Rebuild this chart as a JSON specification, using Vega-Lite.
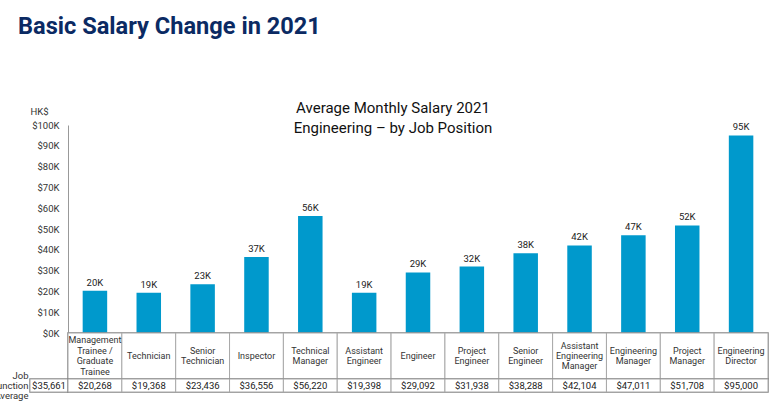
{
  "$schema": "https://vega.github.io/schema/vega-lite/v6.json",
  "autosize": "none",
  "padding": {"left": 30, "top": 125, "right": 750, "bottom": 277},
  "background": "white",
  "title": {
    "text": "Basic Salary Change in 2021",
    "anchor": "start",
    "frame": "group",
    "dx": -12,
    "offset": 62,
    "font": "Roboto",
    "fontSize": 23.6,
    "fontWeight": "bold",
    "color": "#0b2a63"
  },
  "config": {
    "view": {"stroke": null},
    "font": "Roboto",
    "text": {"font": "Roboto"}
  },
  "datasets": {
    "jobs": [
      {"job": "Management\nTrainee /\nGraduate\nTrainee", "salary": 20268, "lbl": "20K"},
      {"job": "Technician", "salary": 19368, "lbl": "19K"},
      {"job": "Senior\nTechnician", "salary": 23436, "lbl": "23K"},
      {"job": "Inspector", "salary": 36556, "lbl": "37K"},
      {"job": "Technical\nManager", "salary": 56220, "lbl": "56K"},
      {"job": "Assistant\nEngineer", "salary": 19398, "lbl": "19K"},
      {"job": "Engineer", "salary": 29092, "lbl": "29K"},
      {"job": "Project\nEngineer", "salary": 31938, "lbl": "32K"},
      {"job": "Senior\nEngineer", "salary": 38288, "lbl": "38K"},
      {"job": "Assistant\nEngineering\nManager", "salary": 42104, "lbl": "42K"},
      {"job": "Engineering\nManager", "salary": 47011, "lbl": "47K"},
      {"job": "Project\nManager", "salary": 51708, "lbl": "52K"},
      {"job": "Engineering\nDirector", "salary": 95000, "lbl": "95K"}
    ],
    "avg": [
      {"row": "Job Function Average", "salary": 35661}
    ]
  },
  "columns": 2,
  "spacing": 0,
  "bounds": "flush",
  "align": "each",
  "concat": [
    {
      "width": 38,
      "height": 208,
      "data": {"values": [{}]},
      "mark": {"type": "text"},
      "encoding": {"text": {"value": ""}}
    },
    {
      "width": 700,
      "height": 208,
      "data": {"name": "jobs"},
      "title": {
        "text": ["Average Monthly Salary 2021", "Engineering – by Job Position"],
        "frame": "group",
        "anchor": "middle",
        "dx": -25,
        "offset": -30,
        "font": "Roboto",
        "fontSize": 15,
        "fontWeight": "normal",
        "color": "#111111",
        "lineHeight": 20
      },
      "encoding": {
        "x": {
          "field": "job",
          "type": "nominal",
          "sort": null,
          "scale": {"paddingInner": 0.545, "paddingOuter": 0.2725},
          "axis": null
        },
        "y": {
          "field": "salary",
          "type": "quantitative",
          "scale": {"domain": [0, 100000], "nice": false},
          "axis": {
            "values": [0, 10000, 20000, 30000, 40000, 50000, 60000, 70000, 80000, 90000, 100000],
            "labelExpr": "'$' + datum.value/1000 + 'K'",
            "grid": false,
            "ticks": false,
            "domainColor": "#999999",
            "labelPadding": 9,
            "labelFontSize": 9.5,
            "labelColor": "#333333",
            "labelFont": "Roboto",
            "title": "HK$",
            "titleAngle": 0,
            "titleAlign": "left",
            "titleBaseline": "alphabetic",
            "titleX": -38,
            "titleY": -11,
            "titleFontSize": 9.5,
            "titleFontWeight": "normal",
            "titleColor": "#333333",
            "titleFont": "Roboto"
          }
        }
      },
      "layer": [
        {"mark": {"type": "bar", "color": "#0099cc"}},
        {
          "mark": {"type": "text", "baseline": "alphabetic", "dy": -5, "fontSize": 9.5, "color": "#222222"},
          "encoding": {"text": {"field": "lbl"}}
        }
      ]
    },
    {
      "width": 38,
      "height": 46,
      "data": {"values": [{}]},
      "mark": {"type": "text"},
      "encoding": {"text": {"value": ""}}
    },
    {
      "width": 700,
      "height": 46,
      "data": {"name": "jobs"},
      "view": {"stroke": "#808080", "strokeWidth": 1.5},
      "encoding": {
        "x": {
          "field": "job",
          "type": "nominal",
          "sort": null,
          "scale": {"paddingInner": 0, "paddingOuter": 0},
          "axis": null
        },
        "text": {"field": "job"}
      },
      "layer": [
        {"mark": {"type": "rect", "fill": "white", "stroke": "#a8a8a8", "strokeWidth": 1}, "encoding": {"text": null}},
        {
          "transform": [{"filter": "length(split(datum.job, '\\n')) == 1"}],
          "mark": {"type": "text", "lineBreak": "\n", "lineHeight": 10.4, "fontSize": 9, "color": "#333333", "baseline": "middle", "dy": 0}
        },
        {
          "transform": [{"filter": "length(split(datum.job, '\\n')) == 2"}],
          "mark": {"type": "text", "lineBreak": "\n", "lineHeight": 10.4, "fontSize": 9, "color": "#333333", "baseline": "middle", "dy": -5.2}
        },
        {
          "transform": [{"filter": "length(split(datum.job, '\\n')) == 3"}],
          "mark": {"type": "text", "lineBreak": "\n", "lineHeight": 10.4, "fontSize": 9, "color": "#333333", "baseline": "middle", "dy": -10.4}
        },
        {
          "transform": [{"filter": "length(split(datum.job, '\\n')) == 4"}],
          "mark": {"type": "text", "lineBreak": "\n", "lineHeight": 10.4, "fontSize": 9, "color": "#333333", "baseline": "middle", "dy": -15.6}
        }
      ]
    },
    {
      "width": 38,
      "height": 13,
      "data": {"name": "avg"},
      "view": {"stroke": "#808080", "strokeWidth": 1.5},
      "encoding": {
        "y": {
          "field": "row",
          "type": "nominal",
          "scale": {"paddingInner": 0, "paddingOuter": 0},
          "axis": {
            "title": null,
            "labelExpr": "split(datum.label, ' ')",
            "ticks": false,
            "domain": false,
            "labelPadding": 2,
            "labelOffset": -10,
            "labelFontSize": 9.5,
            "labelLineHeight": 10,
            "labelColor": "#333333",
            "labelFont": "Roboto"
          }
        }
      },
      "layer": [
        {"mark": {"type": "rect", "fill": "white", "stroke": "#a8a8a8"}},
        {
          "mark": {"type": "text", "fontSize": 9.5, "color": "#222222", "baseline": "middle"},
          "encoding": {"text": {"field": "salary", "format": "$,"}}
        }
      ]
    },
    {
      "width": 700,
      "height": 13,
      "data": {"name": "jobs"},
      "view": {"stroke": "#808080", "strokeWidth": 1.5},
      "encoding": {
        "x": {
          "field": "job",
          "type": "nominal",
          "sort": null,
          "scale": {"paddingInner": 0, "paddingOuter": 0},
          "axis": null
        }
      },
      "layer": [
        {"mark": {"type": "rect", "fill": "white", "stroke": "#a8a8a8", "strokeWidth": 1}},
        {
          "mark": {"type": "text", "fontSize": 9.5, "color": "#222222", "baseline": "middle"},
          "encoding": {"text": {"field": "salary", "format": "$,"}}
        }
      ]
    }
  ]
}
